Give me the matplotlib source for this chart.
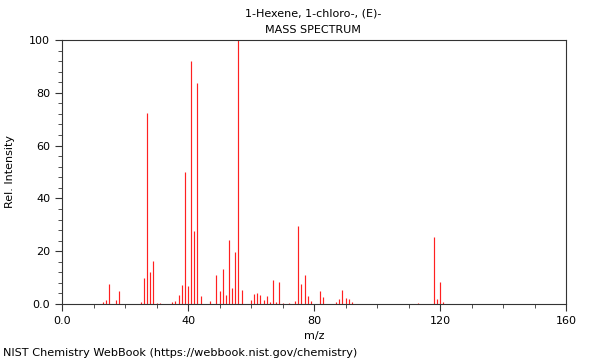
import matplotlib
matplotlib.use("Agg")
import matplotlib.pyplot as plt
from matplotlib.ticker import MultipleLocator, FixedFormatter, FixedLocator

title = "1-Hexene, 1-chloro-, (E)-"
subtitle = "MASS SPECTRUM"
footer = "NIST Chemistry WebBook (https://webbook.nist.gov/chemistry)"

mz = [13, 14, 15, 17, 18, 25, 26, 27, 28, 29, 30, 31, 35, 36, 37, 38, 39, 40, 41, 42, 43, 44,
      47, 49, 50, 51, 52, 53, 54, 55, 56, 57, 60, 61, 62, 63, 64, 65, 66, 67, 68, 69, 70,
      72, 74, 75, 76, 77, 78, 79, 82, 83, 87, 88, 89, 90, 91, 92, 113, 118, 119, 120, 121]
intensity = [0.8, 1.5, 7.5, 1.5, 5.0, 0.8, 9.7, 72.3, 12.1, 16.3, 0.5, 0.4, 0.8, 1.0, 3.3, 7.2, 50.1, 7.0, 92.0, 27.6, 83.6, 3.1,
             1.1, 11.0, 5.0, 13.1, 3.3, 24.2, 5.9, 19.8, 100.0, 5.3, 1.5, 3.8, 4.0, 3.4, 1.4, 3.0, 0.6, 9.1, 0.8, 8.2, 0.5,
             0.4, 1.0, 29.5, 7.4, 11.1, 2.9, 1.1, 4.9, 2.7, 0.6, 1.9, 5.3, 2.3, 2.0, 0.8, 0.3, 25.3, 1.9, 8.3, 0.8]

x_ticks = [0, 40, 80, 120, 160]
x_tick_labels = ["0.0", "40", "80", "120", "160"]
y_ticks = [0, 20, 40, 60, 80, 100]
y_tick_labels = ["0.0", "20", "40", "60", "80", "100"]

fig = plt.figure(figsize=(6, 3.6), dpi=100)
ax = fig.add_axes([62/600, 1-304/360, (566-62)/600, (304-40)/360])

ax.vlines(mz, 0, intensity, colors="#ff2020", linewidth=0.85)

ax.set_xlim(0, 160)
ax.set_ylim(0, 100)
ax.xaxis.set_major_locator(FixedLocator(x_ticks))
ax.xaxis.set_major_formatter(FixedFormatter(x_tick_labels))
ax.xaxis.set_minor_locator(MultipleLocator(10))
ax.yaxis.set_major_locator(FixedLocator(y_ticks))
ax.yaxis.set_major_formatter(FixedFormatter(y_tick_labels))
ax.yaxis.set_minor_locator(MultipleLocator(4))

ax.tick_params(which="major", length=5, width=0.8, labelsize=8, color="#333333", direction="out")
ax.tick_params(which="minor", length=3, width=0.6, color="#333333", direction="out")
for s in ax.spines.values():
    s.set_color("#333333")
    s.set_linewidth(0.8)

ax.set_xlabel("m/z", fontsize=8, labelpad=4)
ax.set_ylabel("Rel. Intensity", fontsize=8, labelpad=10)

fig.text(313/600, 1-13/360, title, ha="center", va="center", fontsize=8)
fig.text(313/600, 1-30/360, subtitle, ha="center", va="center", fontsize=8)
fig.text(3/600, 1-353/360, footer, ha="left", va="center", fontsize=8.15)

fig.savefig("out.png", dpi=100)
